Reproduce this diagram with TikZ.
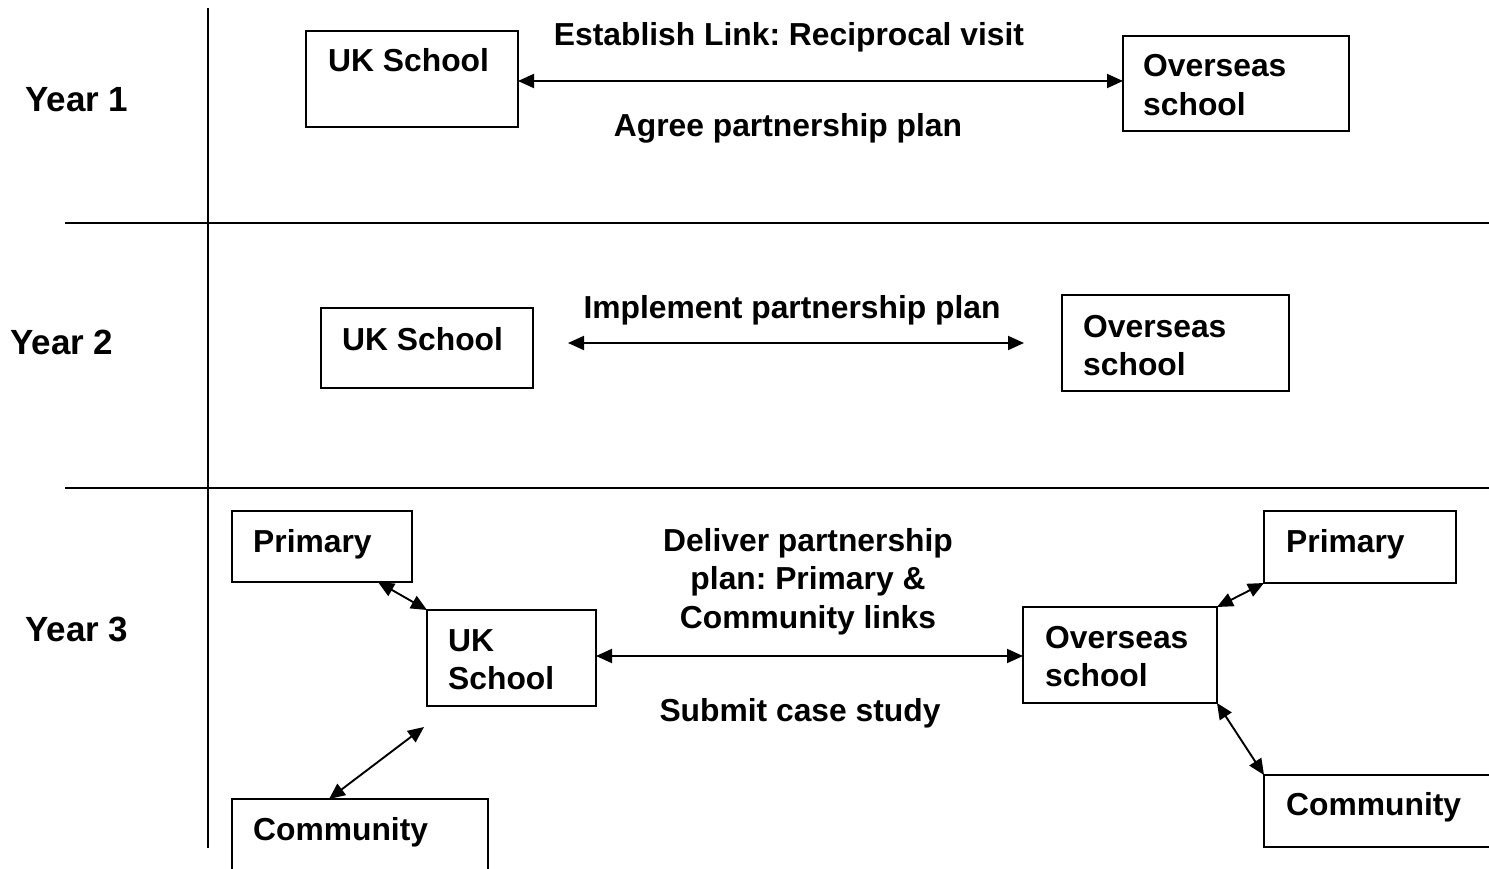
\documentclass[tikz,border=0pt]{standalone}
\usepackage{fontspec}
\setmainfont{Liberation Sans}
\usetikzlibrary{arrows.meta}
\frenchspacing
\begin{document}
\begin{tikzpicture}[x=1pt,y=-1pt,
  rule/.style={line width=1.8pt},
  box/.style={draw, line width=1.7pt, rectangle, inner sep=0pt, outer sep=0pt, anchor=north west},
  txt/.style={font=\bfseries\fontsize{31.8}{38.5}\selectfont, inner sep=0pt, anchor=base west, align=left},
  ctxt/.style={txt, anchor=base, align=center},
  yeartxt/.style={font=\bfseries\fontsize{35}{40}\selectfont, inner sep=0pt, anchor=base west},
  link/.style={line width=1.9pt, {Triangle[length=16pt,width=14pt]}-{Triangle[length=16pt,width=14pt]}}]
\useasboundingbox (0,0) rectangle (1489,869);
\clip (0,0) rectangle (1489,869);

% grid separating the three years
\coordinate (vtop) at (208,8);
\coordinate (vbot) at (208,848);
\coordinate (h1l) at (65,223);  \coordinate (h1r) at (1489,223);
\coordinate (h2l) at (65,488);  \coordinate (h2r) at (1489,488);
\draw[rule] (vtop) -- (vbot);
\draw[rule] (h1l) -- (h1r);
\draw[rule] (h2l) -- (h2r);

% year labels
\node[yeartxt] (y1) at (25,112) {Year 1};
\node[yeartxt] (y2) at (10,354) {Year 2};
\node[yeartxt] (y3) at (25,641) {Year 3};

% ---------- Year 1 ----------
% (multi-line labels are placed by the baseline of their last line)
\node[box, minimum width=212pt, minimum height=96pt] (uk1) at (306,31) {};
\node[box, minimum width=226pt, minimum height=95pt] (os1) at (1123,36) {};
\node[txt] (uk1t) at (328,72) {UK School};
\node[txt] (os1t) at (1143,115.5) {Overseas\\school};
\draw[link] ([yshift=-2pt]uk1.east) -- ([yshift=-2pt]uk1.east -| os1.west);
\node[ctxt] (est) at (789,46) {Establish Link: Reciprocal visit};
\node[ctxt] (agr) at (788,137) {Agree partnership plan};

% ---------- Year 2 ----------
\node[box, minimum width=212pt, minimum height=80pt] (uk2) at (321,308) {};
\node[box, minimum width=227pt, minimum height=96pt] (os2) at (1062,295) {};
\node[txt] (uk2t) at (342,350) {UK School};
\node[txt] (os2t) at (1083,375.5) {Overseas\\school};
\coordinate (a2l) at (568,343);
\coordinate (a2r) at (1024,343);
\draw[link] (a2l) -- (a2r);
\node[ctxt] (imp) at (792,318) {Implement partnership plan};

% ---------- Year 3 ----------
\node[box, minimum width=180pt, minimum height=71pt] (pl3) at (232,511) {};
\node[box, minimum width=169pt, minimum height=96pt] (uk3) at (427,610) {};
\node[box, minimum width=256pt, minimum height=100pt] (cl3) at (232,799) {};
\node[box, minimum width=194pt, minimum height=96pt] (os3) at (1023,607) {};
\node[box, minimum width=192pt, minimum height=72pt] (pr3) at (1264,511) {};
\node[box, minimum width=250pt, minimum height=72pt] (cr3) at (1264,775) {};

\node[txt] (pl3t) at (253,552) {Primary};
\node[txt] (uk3t) at (448,689.5) {UK\\School};
\node[txt] (cl3t) at (253,840) {Community};
\node[txt] (os3t) at (1045,686.5) {Overseas\\school};
\node[txt] (pr3t) at (1286,552) {Primary};
\node[txt] (cr3t) at (1286,815) {Community};

\node[ctxt] (del) at (808,628) {Deliver partnership\\plan: Primary \&\\Community links};
\node[ctxt] (sub) at (800,721) {Submit case study};

\draw[link] ([yshift=2pt]uk3.east) -- ([yshift=2pt]uk3.east -| os3.west);
\draw[link] ([xshift=146pt]pl3.south west) -- (uk3.north west);
\coordinate (cl3end) at (424,727);
\draw[link] ([xshift=97pt]cl3.north west) -- (cl3end);
\draw[link] (os3.north east) -- (pr3.south west);
\draw[link] (os3.south east) -- (cr3.north west);
\end{tikzpicture}
\end{document}
